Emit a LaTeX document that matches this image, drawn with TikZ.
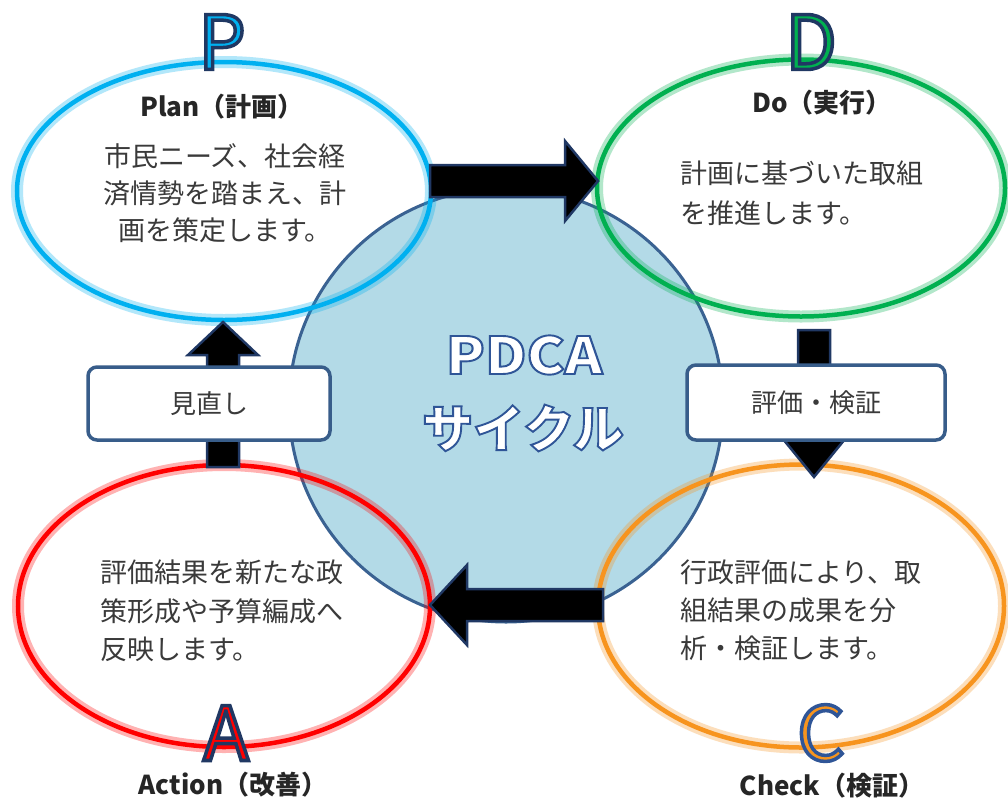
\documentclass[tikz,border=0pt]{standalone}
\usepackage{fontspec}
\setmainfont{Noto Sans CJK JP}
\usetikzlibrary{calc,shapes.geometric}
\definecolor{pblue}{HTML}{00B0F0}
\definecolor{dgreen}{HTML}{00B050}
\definecolor{ared}{HTML}{FF0000}
\definecolor{corange}{HTML}{F7941E}
\definecolor{circfill}{HTML}{B3DAE7}
\definecolor{circedge}{HTML}{3A6292}
\definecolor{navy}{HTML}{203864}
\definecolor{midblue}{HTML}{2F5597}
\definecolor{boxedge}{HTML}{385D8A}
\definecolor{bodygray}{HTML}{3A3A3A}
% outlined text via PDF text render mode 2 (fill + stroke)
% #1 name, #2 position, #3 fill colour, #4 stroke rgb (0-1), #5 stroke width, #6 font, #7 text
\newcommand\outlinetext[7]{%
  \node[text=#3,font=#6,inner sep=0] (#1) at (#2)
    {\special{pdf:literal direct #4 RG 2 Tr #5 w}#7\special{pdf:literal direct 0 Tr}};}
\tikzset{
  ring/.style={ellipse, draw=#1, line width=4.5,
    preaction={draw=#1, draw opacity=0.3, line width=12}},
  blockarrow/.style={fill=black, draw=navy, line width=2.5, line join=miter},
  labelbox/.style={draw=boxedge, line width=3.5, fill=white, rounded corners=9,
    text=bodygray, font=\fontsize{26}{30}\selectfont},
  titletext/.style={inner sep=0, text=black!85, font=\bfseries\fontsize{26}{30}\selectfont},
  bodytext/.style={inner sep=0, text=bodygray, font=\fontsize{26}{38.5}\selectfont},
}
\begin{document}
\begin{tikzpicture}[x=1pt,y=-1pt]
\useasboundingbox (0,0) rectangle (1008,801);
\fill[white] (0,0) rectangle (1008,801);
% central circle
\node[circle, draw=circedge, line width=3, fill=circfill, minimum size=434, inner sep=0] (cyc) at (506,405) {};
% four ellipses
\node[ring=pblue, minimum width=414, minimum height=258] (Pel) at (224,191) {};
\node[ring=dgreen, minimum width=408, minimum height=257] (Del) at (801,188) {};
\node[ring=ared, minimum width=412, minimum height=282] (Ael) at (224,606) {};
\node[ring=corange, minimum width=406, minimum height=283] (Cel) at (801,606) {};
% block arrows
\coordinate (tA) at (598,181);
\coordinate (tB) at (430,605);
\coordinate (tC) at (223,322);
\coordinate (tD) at (814,477);
\draw[blockarrow] (430,165) -- (565,165) -- (565,141) -- (tA) -- (565,221) -- (565,197) -- (430,197) -- cycle;
\draw[blockarrow] (603,589) -- (467,589) -- (467,565) -- (tB) -- (467,645) -- (467,621) -- (603,621) -- cycle;
\draw[blockarrow] (207,467) -- (207,355) -- (188,355) -- (tC) -- (258,355) -- (239,355) -- (239,467) -- cycle;
\draw[blockarrow] (798,330) -- (830,330) -- (830,428) -- (854,428) -- (tD) -- (774,428) -- (798,428) -- cycle;
% label boxes
\node[labelbox, minimum width=242, minimum height=73] (review) at (209,403.5) {見直し};
\node[labelbox, minimum width=258, minimum height=75] (evaluate) at (816,402.5) {評価・検証};
% big letters
\outlinetext{Pletter}{222,42}{pblue}{0.125 0.22 0.39}{3.5}{\fontsize{75}{80}\selectfont}{P}
\outlinetext{Dletter}{811,42}{dgreen}{0.125 0.22 0.39}{3.5}{\fontsize{75}{80}\selectfont}{D}
\outlinetext{Aletter}{226,733}{ared}{0.125 0.22 0.39}{3.5}{\fontsize{75}{80}\selectfont}{A}
\outlinetext{Cletter}{821,733}{corange}{0.184 0.333 0.592}{3.5}{\fontsize{75}{80}\selectfont}{C}
% center title
\outlinetext{pdca}{524,355}{white}{0.184 0.333 0.592}{1.9}{\bfseries\fontsize{51}{56}\selectfont}{\scalebox{1.12}[1]{PDCA}}
\outlinetext{cycle}{523,428}{white}{0.184 0.333 0.592}{1.9}{\bfseries\fontsize{51}{56}\selectfont}{サイクル}
% titles
\node[titletext] (Ptitle) at (222,107) {Plan（計画）};
\node[titletext] (Dtitle) at (822,103) {Do（実行）};
\node[titletext] (Atitle) at (233,785) {Action（改善）};
\node[titletext] (Ctitle) at (832,786) {Check（検証）};
% body texts
\node[bodytext, align=center, font=\fontsize{27}{37}\selectfont] (Pbody) at (225,193) {市民ニーズ、社会経\\済情勢を踏まえ、計\\画を策定します。};
\node[bodytext, align=left, anchor=west, font=\fontsize{27}{40}\selectfont] (Dbody) at (680,193) {計画に基づいた取組\\を推進します。};
\node[bodytext, align=left, anchor=west, font=\fontsize{27}{38.5}\selectfont] (Abody) at (100,611) {評価結果を新たな政\\策形成や予算編成へ\\反映します。};
\node[bodytext, align=left, anchor=west, font=\fontsize{27}{38}\selectfont] (Cbody) at (680,610) {行政評価により、取\\組結果の成果を分\\析・検証します。};
\end{tikzpicture}
\end{document}
